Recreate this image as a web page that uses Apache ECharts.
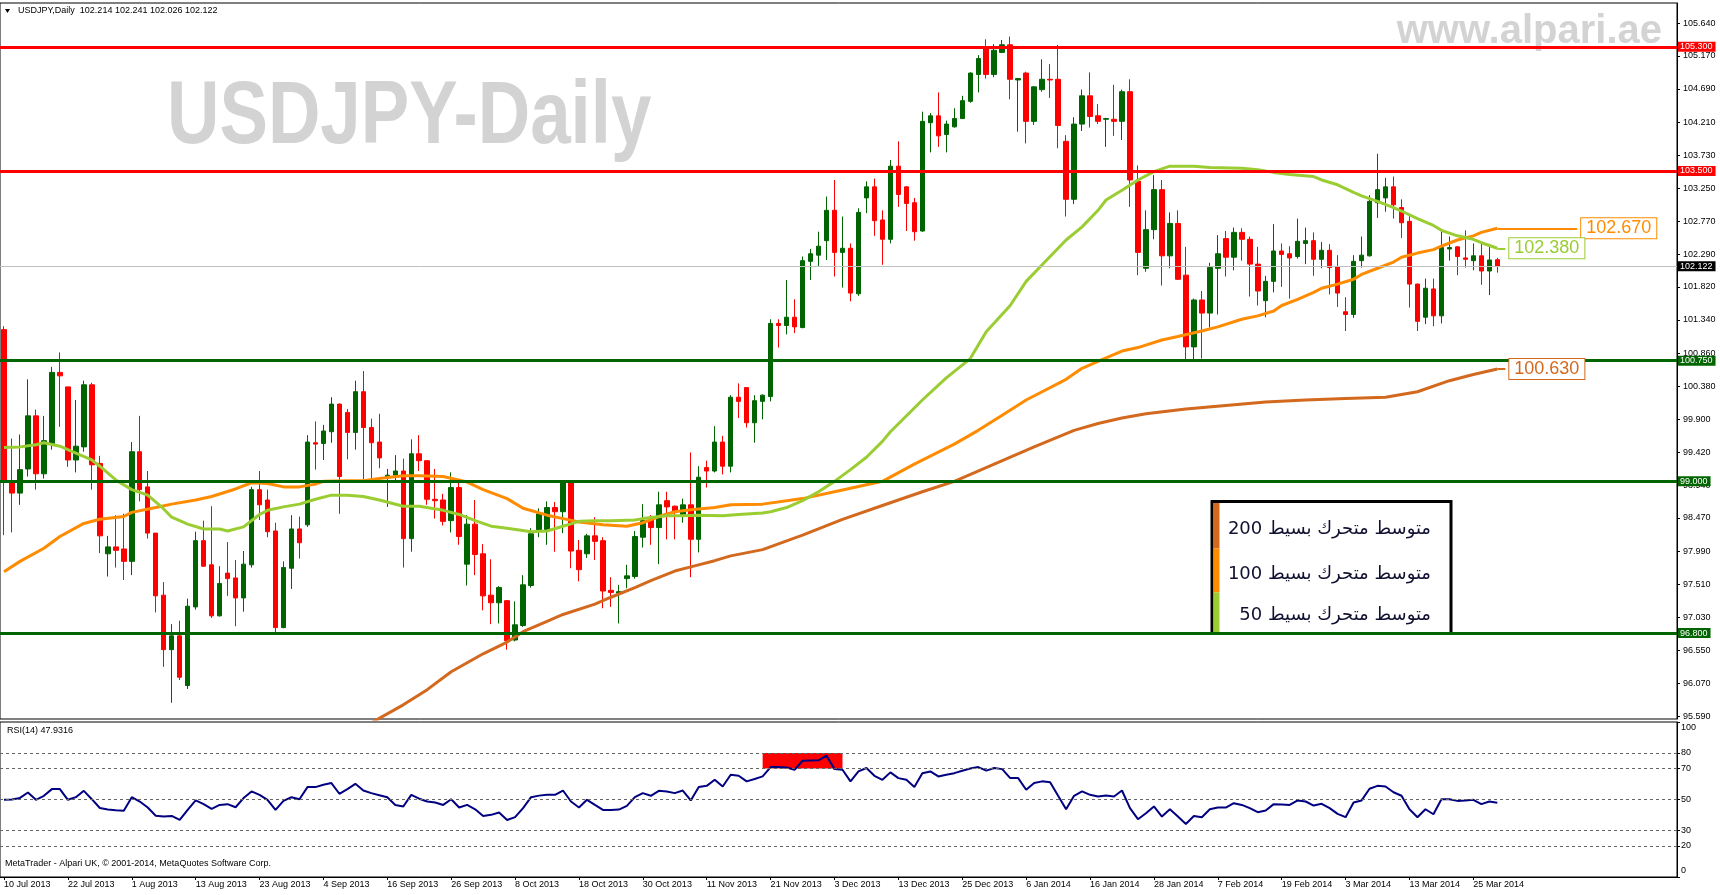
<!DOCTYPE html>
<html><head><meta charset="utf-8">
<script src="https://cdn.jsdelivr.net/npm/echarts@6/dist/echarts.min.js"></script>
<style>html,body{margin:0;padding:0;background:#fff;overflow:hidden}#c{width:1720px;height:895px}</style>
</head><body><div id="c"></div>
<script>
// ---------- DATA ----------
const symbolTitle = 'USDJPY,Daily';
const firstDate = [2013, 6, 10]; // 10 Jul 2013 (month 0-based)
const openP = [101.20,99.00,98.83,99.18,99.95,99.11,99.55,100.58,100.37,99.31,
99.50,100.40,99.26,97.95,98.05,98.02,97.84,99.43,98.92,98.25,
97.35,96.56,96.76,96.04,97.18,98.14,97.79,97.05,97.67,97.60,
97.31,97.79,98.88,98.73,98.28,96.88,97.74,98.31,98.37,99.56,
99.55,99.72,100.12,100.00,99.71,100.30,99.78,99.57,99.05,99.09,
99.15,98.17,99.40,99.30,98.74,98.73,98.43,98.91,97.80,98.38,
97.95,97.35,97.24,97.27,96.70,96.91,97.49,98.30,98.30,98.62,
98.56,98.99,98.00,97.95,98.21,98.14,97.42,97.38,97.59,97.62,
98.19,98.46,98.33,98.72,98.64,98.49,98.66,98.16,99.20,99.15,
99.57,99.22,100.22,100.36,99.85,100.16,100.23,101.29,101.26,101.38,
101.23,102.19,102.28,102.49,102.93,102.32,102.38,101.72,103.11,103.27,
102.79,102.51,103.57,103.27,103.04,102.63,104.20,104.30,104.03,104.14,
104.26,104.51,104.90,105.29,104.90,105.22,105.33,104.82,104.92,104.22,
104.68,104.83,104.83,103.93,103.09,104.18,104.59,104.30,104.25,104.25,
104.22,104.65,103.35,102.09,102.65,103.23,102.27,102.74,101.99,100.95,
101.63,101.44,102.09,102.52,102.25,102.61,102.51,102.15,101.62,101.90,
102.34,102.30,102.26,102.45,102.49,102.22,102.35,102.11,101.46,101.42,
102.20,102.27,103.04,103.11,103.27,102.97,102.77,101.86,101.38,101.79,
101.40,102.37,102.40,102.24,102.20,102.27,102.05,102.214];
const closeP = [99.00,98.83,99.17,99.95,99.11,99.59,100.58,100.53,99.31,99.51,
100.40,99.24,98.21,98.05,98.00,97.84,99.43,98.88,98.25,97.34,
96.56,96.76,96.16,97.19,98.14,97.77,97.05,97.52,97.59,97.31,
97.80,98.88,98.66,98.27,96.88,97.75,98.31,98.11,99.57,99.54,
99.73,100.12,99.07,99.71,100.30,99.78,99.56,99.34,99.09,99.15,
98.17,99.40,99.30,98.74,98.72,98.42,98.91,98.20,98.38,97.94,
97.34,97.24,97.46,96.69,96.92,97.50,98.24,98.53,98.62,98.56,
98.99,97.99,97.72,98.21,98.13,97.41,97.39,97.40,97.63,98.20,
98.43,98.33,98.66,98.63,98.56,98.66,98.16,99.06,99.15,99.57,
99.22,100.22,100.16,99.85,100.17,100.25,101.29,101.26,101.38,101.24,
102.20,102.30,102.41,102.93,102.32,102.38,101.73,102.90,103.27,102.78,
102.51,103.57,103.16,103.03,102.62,104.22,104.30,104.01,104.18,104.26,
104.52,104.92,105.13,104.90,105.25,105.33,104.83,104.84,104.22,104.72,
104.83,104.82,104.16,103.09,104.18,104.59,104.29,104.22,104.26,104.22,
104.65,103.37,102.32,102.65,103.23,102.27,102.74,101.93,100.95,101.63,
101.44,102.10,102.30,102.25,102.61,102.51,102.15,101.76,101.90,102.34,
102.29,102.24,102.48,102.49,102.22,102.35,102.10,101.73,101.42,102.19,
102.28,103.06,103.23,103.27,103.01,102.75,101.86,101.32,101.80,101.40,
102.39,102.39,102.26,102.22,102.27,102.05,102.21,102.122];
const lowP = [98.22,98.26,98.66,99.07,98.88,99.04,99.46,99.79,99.21,99.13,
99.43,98.88,97.96,97.62,97.75,97.57,97.64,98.71,98.17,97.10,
96.31,95.79,96.12,95.99,97.14,97.76,97.02,97.04,97.34,96.90,
97.11,97.75,98.44,98.19,96.81,96.87,97.44,97.88,98.34,99.17,
99.31,99.56,98.53,99.32,99.46,99.03,99.03,99.19,98.63,99.02,
97.75,97.98,99.15,98.66,98.46,98.36,98.26,98.08,97.49,97.64,
97.13,96.93,96.94,96.56,96.68,96.89,97.46,98.19,98.08,97.98,
98.25,97.74,97.55,97.89,97.86,97.16,97.18,96.94,97.45,97.59,
98.04,98.08,97.80,98.16,98.16,98.40,97.61,97.97,98.91,99.13,
99.10,99.13,99.92,99.78,99.56,99.90,100.16,100.94,101.13,101.15,
101.22,101.92,102.11,102.21,101.97,101.81,101.61,101.69,102.89,102.56,
102.14,102.45,102.98,102.63,102.49,102.62,103.77,103.85,103.77,104.13,
104.26,104.49,104.64,104.84,104.86,105.21,104.54,104.07,103.90,104.17,
104.65,104.56,103.83,102.84,103.02,104.08,104.13,104.18,103.85,104.01,
103.95,102.98,101.99,102.04,102.51,101.84,102.09,101.92,100.76,100.76,
100.78,101.23,101.42,101.97,102.06,102.20,101.68,101.55,101.38,101.74,
101.82,101.65,102.23,102.15,101.98,102.09,101.71,101.53,101.18,101.37,
102.10,102.26,102.82,102.91,102.81,102.53,101.52,101.18,101.28,101.25,
101.29,102.20,101.99,102.10,102.06,101.85,101.70,102.026];
const highP = [101.25,99.62,99.68,100.48,100.04,99.95,100.66,100.87,100.37,100.18,
100.46,100.43,99.37,98.21,98.51,98.53,99.57,99.95,99.15,98.25,
97.54,96.93,96.98,97.30,98.27,98.43,98.64,97.77,98.12,97.86,
97.99,98.92,99.15,98.88,98.40,97.84,98.51,98.49,99.67,99.87,
99.82,100.22,100.13,100.05,100.46,100.60,99.91,99.98,99.18,99.38,
99.33,99.61,99.67,99.30,99.18,98.82,99.13,99.00,98.51,98.73,
98.09,97.87,97.48,97.28,97.26,97.64,98.32,98.61,98.71,98.70,
98.99,99.01,98.15,98.24,98.48,98.19,97.61,97.50,97.79,98.28,
98.67,98.51,98.85,98.85,98.65,98.75,99.42,99.22,99.30,99.80,
99.66,100.25,100.42,100.36,100.25,100.26,101.35,101.35,101.92,101.64,
102.26,102.37,102.62,103.13,103.37,102.84,102.45,102.96,103.35,103.39,
102.93,103.66,103.93,103.28,103.11,104.36,104.34,104.64,104.23,104.41,
104.59,104.93,105.18,105.41,105.34,105.40,105.45,104.85,104.94,104.73,
105.12,105.05,105.33,104.02,104.28,104.68,104.93,104.47,104.27,104.75,
104.68,104.83,103.58,102.93,103.44,103.37,102.90,102.93,102.40,101.65,
101.76,102.17,102.57,102.63,102.68,102.67,102.55,102.40,101.98,102.73,
102.45,102.41,102.81,102.68,102.61,102.47,102.44,102.28,101.67,102.28,
102.55,103.15,103.75,103.40,103.42,103.09,102.85,101.87,101.94,101.94,
102.63,102.55,102.41,102.64,102.45,102.45,102.40,102.241];

// moving averages: [bar index, value]
const ma50 = [[0,99.49],[2,99.50],[4,99.53],[5,99.56],[7,99.51],[9,99.41],[11,99.31],[12,99.22],[14,99.02],[16,98.88],[18,98.80],[20,98.60],[21,98.48],[23,98.38],[25,98.31],[27,98.31],[28,98.28],[30,98.34],[32,98.52],[33,98.58],[35,98.63],[37,98.67],[39,98.74],[41,98.80],[43,98.80],[45,98.78],[47,98.73],[50,98.64],[52,98.64],[55,98.58],[57,98.52],[59,98.43],[61,98.35],[63,98.32],[66,98.27],[68,98.28],[70,98.35],[72,98.42],[74,98.43],[76,98.43],[79,98.44],[80,98.46],[83,98.50],[85,98.50],[87,98.51],[90,98.50],[92,98.52],[95,98.54],[96,98.56],[98,98.62],[100,98.72],[102,98.85],[104,99.00],[106,99.17],[108,99.35],[110,99.58],[111,99.72],[115,100.18],[118,100.50],[121,100.78],[123,101.17],[126,101.55],[128,101.90],[130,102.14],[132,102.38],[133,102.50],[135,102.69],[137,102.93],[138,103.08],[140,103.22],[142,103.37],[144,103.49],[146,103.57],[149,103.57],[151,103.55],[155,103.54],[157,103.52],[159,103.48],[161,103.45],[164,103.42],[165,103.37],[167,103.30],[169,103.19],[170,103.14],[172,103.06],[174,102.97],[175,102.92],[177,102.81],[179,102.71],[180,102.64],[182,102.56],[184,102.51],[185,102.46],[187,102.38]];
const ma100 = [[0,97.69],[2,97.84],[5,98.03],[7,98.20],[10,98.39],[12,98.45],[15,98.49],[16,98.55],[19,98.62],[21,98.67],[24,98.73],[26,98.78],[29,98.89],[31,98.98],[33,98.97],[35,98.92],[37,98.92],[39,98.96],[40,99.00],[43,99.01],[45,99.01],[47,99.04],[50,99.08],[52,99.08],[55,99.07],[58,98.99],[60,98.88],[63,98.75],[65,98.61],[68,98.51],[70,98.46],[72,98.41],[75,98.37],[78,98.35],[80,98.40],[82,98.49],[84,98.56],[86,98.59],[89,98.62],[91,98.66],[95,98.67],[100,98.75],[104,98.85],[108,98.95],[110,99.00],[114,99.25],[119,99.54],[122,99.74],[125,99.96],[128,100.18],[130,100.30],[133,100.48],[135,100.64],[138,100.79],[140,100.89],[142,100.94],[145,101.05],[147,101.10],[150,101.18],[152,101.24],[155,101.35],[157,101.40],[159,101.47],[160,101.55],[162,101.64],[164,101.74],[165,101.80],[167,101.86],[169,101.93],[170,102.00],[172,102.09],[174,102.18],[175,102.25],[177,102.31],[179,102.36],[180,102.41],[182,102.50],[184,102.56],[185,102.61],[187,102.67]];
const ma200 = [[46,95.50],[50,95.76],[53,95.98],[56,96.24],[60,96.50],[63,96.67],[65,96.82],[68,96.97],[70,97.07],[74,97.22],[76,97.32],[79,97.46],[81,97.56],[84,97.70],[86,97.76],[89,97.85],[91,97.92],[95,98.01],[100,98.22],[105,98.45],[110,98.65],[115,98.85],[119,99.00],[124,99.25],[129,99.50],[134,99.74],[137,99.84],[140,99.92],[143,99.98],[148,100.05],[153,100.10],[158,100.15],[163,100.18],[168,100.20],[173,100.22],[177,100.30],[181,100.46],[184,100.55],[187,100.63]];

const rsi = [49.8,50.0,51.0,54.5,49.8,52.4,56.7,56.7,49.8,51.5,
55.6,50.2,44.5,43.5,43.0,42.7,51.5,48.7,44.8,39.5,
39.0,39.4,36.8,43.3,49.4,47.0,44.0,46.5,47.0,45.0,
50.9,55.2,53.0,49.8,43.3,49.1,51.5,50.2,58.0,58.0,
59.5,60.6,53.7,56.7,60.1,55.8,54.1,52.8,51.5,46.5,
45.5,53.0,50.5,48.7,48.1,46.5,50.2,44.8,46.5,43.7,
39.4,40.1,41.6,36.8,38.6,44.4,51.5,52.5,53.0,53.0,
55.8,48.7,44.8,49.8,46.5,43.3,43.3,43.5,45.9,51.5,
54.1,52.4,55.6,55.2,54.1,55.8,49.4,58.0,58.8,62.7,
58.4,66.0,65.3,61.7,63.2,64.9,70.9,70.9,70.7,69.2,
75.0,75.2,75.3,78.3,69.6,69.2,61.7,68.1,70.3,65.3,
62.7,67.5,63.8,62.7,58.0,67.0,68.1,64.9,66.0,67.0,
68.6,70.0,70.9,68.6,70.3,69.6,63.8,63.8,56.3,60.6,
61.7,61.2,52.4,43.7,52.4,55.2,53.0,51.9,52.6,51.9,
55.8,44.4,37.3,41.1,45.5,39.0,43.7,39.0,34.2,39.4,
38.6,43.7,44.8,44.8,47.6,46.5,44.4,41.8,42.9,47.0,
46.8,46.5,49.4,48.7,46.1,47.2,44.4,40.7,38.6,48.1,
49.4,56.9,58.8,58.4,54.7,52.4,43.7,38.6,43.7,40.5,
50.2,50.2,49.1,49.4,49.8,47.0,48.7,47.9316];
const rsiLabel = 'RSI(14) 47.9316';

const yTicks = [95.59,96.07,96.55,97.03,97.51,97.99,98.47,98.94,99.42,99.90,100.38,100.86,101.34,101.82,102.29,102.77,103.25,103.73,104.21,104.69,105.17,105.64];
const rsiTicks = [0,20,30,50,70,80,100];
const rsiLevels = [80,70,50,30,20];
const resistance = [105.300, 103.500];
const support = [100.750, 99.000, 96.800];
const bidPrice = 102.122;
const rsiBoxFrom = 95, rsiBoxTo = 105, rsiBoxHi = 80, rsiBoxLo = 70;
const legendTexts = ['متوسط متحرك بسيط 200','متوسط متحرك بسيط 100','متوسط متحرك بسيط 50'];

// ---------- BUILD ----------
const MONTHS = ['Jan','Feb','Mar','Apr','May','Jun','Jul','Aug','Sep','Oct','Nov','Dec'];
const nBars = openP.length;
const dates = [];
{ const d = new Date(Date.UTC(firstDate[0], firstDate[1], firstDate[2]));
  while (dates.length < nBars) { const w = d.getUTCDay();
    if (w !== 0 && w !== 6) dates.push(d.getUTCDate()+' '+MONTHS[d.getUTCMonth()]+' '+d.getUTCFullYear());
    d.setUTCDate(d.getUTCDate()+1); } }
const TOTAL = 210;
const cats = dates.slice(); for (let k = nBars; k < TOTAL; k++) cats.push('_' + k);
const candles = openP.map((o,i)=>[o, closeP[i], lowP[i], highP[i]]);
const showIdx = (i) => i % 8 === 0 && i < nBars;
const FONT = '"Liberation Sans", Arial, sans-serif';

const RED='#FF0000', DG='#006400', C50='#9ACD32', C100='#FF8C00', C200='#D2691E';

function maEndMark(series, color, endIdx){
  const v = series[series.length-1][1], i0 = series[series.length-1][0];
  return { symbol:'none', silent:true, animation:false,
    data:[[{coord:[i0, v]},{coord:[endIdx, v]}]],
    lineStyle:{color, width:2, type:'solid'},
    label:{show:true, position:'end', distance:4, formatter: v.toFixed(3), color, fontSize:18, fontFamily:FONT,
      backgroundColor:'#fff', borderColor:color, borderWidth:1, padding:[2,5,0,5]} };
}

const levelLines = [];
resistance.forEach(v=>levelLines.push({yAxis:v, lineStyle:{color:RED,width:3,type:'solid'}, label:{backgroundColor:RED, formatter:v.toFixed(3)}}));
support.forEach(v=>levelLines.push({yAxis:v, lineStyle:{color:DG,width:3,type:'solid'}, label:{backgroundColor:DG, formatter:v.toFixed(3)}}));
levelLines.push({yAxis:bidPrice, lineStyle:{color:'#C0C0C0',width:1,type:'solid'}, label:{backgroundColor:'#000', formatter:bidPrice.toFixed(3)}});

const chart = echarts.init(document.getElementById('c'), null, {renderer:'canvas'});
const last = nBars-1;
chart.setOption({
  animation:false,
  backgroundColor:'#fff',
  grid:[
    {left:0, right:43, top:3, height:716, show:true, borderColor:'#000', borderWidth:1, backgroundColor:'transparent'},
    {left:0, right:43, top:722, height:155, show:true, borderColor:'#000', borderWidth:1, backgroundColor:'transparent'}
  ],
  xAxis:[
    {type:'category', gridIndex:0, data:cats, boundaryGap:true, axisLine:{show:false}, axisTick:{show:false}, axisLabel:{show:false}, splitLine:{show:false}},
    {type:'category', gridIndex:1, data:cats, boundaryGap:true, axisLine:{show:true, lineStyle:{color:'#000'}},
      axisTick:{show:true, interval:(i)=>showIdx(i), alignWithLabel:true, length:3, lineStyle:{color:'#000'}},
      axisLabel:{show:true, interval:(i)=>showIdx(i), align:'left', margin:3, fontSize:9, fontFamily:FONT, color:'#000',
        formatter:(v)=> v.charAt(0)==='_' ? '' : v},
      splitLine:{show:false}}
  ],
  yAxis:[
    {type:'value', gridIndex:0, position:'right', min:95.5545, max:105.936, scale:true,
      axisLine:{show:true, lineStyle:{color:'#000'}},
      axisTick:{show:true, length:3, customValues:yTicks, lineStyle:{color:'#000'}},
      axisLabel:{show:true, customValues:yTicks, margin:6, fontSize:9, fontFamily:FONT, color:'#000', formatter:(v)=>Number(v).toFixed(3)},
      splitLine:{show:false}},
    {type:'value', gridIndex:1, position:'right', min:0, max:100,
      axisLine:{show:true, lineStyle:{color:'#000'}},
      axisTick:{show:true, length:3, customValues:rsiTicks, lineStyle:{color:'#000'}},
      axisLabel:{show:true, customValues:rsiTicks, margin:4, fontSize:9, fontFamily:FONT, color:'#000',
        formatter:(v)=> v===100 ? '{t|100}' : (v===0 ? '{b|0}' : String(v)),
        rich:{t:{padding:[11,0,0,0], fontSize:9, fontFamily:FONT, color:'#000'}, b:{padding:[0,0,12,0], fontSize:9, fontFamily:FONT, color:'#000'}}},
      splitLine:{show:false}}
  ],
  series:[
    {type:'candlestick', name:'USDJPY', xAxisIndex:0, yAxisIndex:0, data:candles, barWidth:5, z:2,
      itemStyle:{color:DG, color0:RED, borderColor:DG, borderColor0:RED, borderWidth:1}},
    {type:'line', name:'MA200', xAxisIndex:0, yAxisIndex:0, data:ma200, showSymbol:false, symbol:'none', z:3, clip:true,
      lineStyle:{color:C200, width:3}, markLine: maEndMark(ma200, C200, 188)},
    {type:'line', name:'MA100', xAxisIndex:0, yAxisIndex:0, data:ma100, showSymbol:false, symbol:'none', z:3, clip:true,
      lineStyle:{color:C100, width:3}, markLine: maEndMark(ma100, C100, 197)},
    {type:'line', name:'MA50', xAxisIndex:0, yAxisIndex:0, data:ma50, showSymbol:false, symbol:'none', z:3, clip:true,
      lineStyle:{color:C50, width:3}, markLine: maEndMark(ma50, C50, 188)},
    {type:'line', name:'levels', xAxisIndex:0, yAxisIndex:0, data:[[0,null]], showSymbol:false, z:5,
      markLine:{symbol:'none', silent:true, animation:false,
        label:{show:true, position:'end', distance:1, color:'#fff', fontSize:9, fontFamily:FONT, padding:[1,3,0,2]},
        data:levelLines}},
    {type:'line', name:'RSI', xAxisIndex:1, yAxisIndex:1, data:rsi, showSymbol:false, symbol:'none', z:3,
      lineStyle:{color:'#000080', width:2},
      markArea:{silent:true, itemStyle:{color:RED, opacity:1}, data:[[{xAxis:rsiBoxFrom, yAxis:rsiBoxHi},{xAxis:rsiBoxTo, yAxis:rsiBoxLo}]]},
      markLine:{symbol:'none', silent:true, animation:false, label:{show:false},
        lineStyle:{color:'#666', width:1, type:[3,3]}, data: rsiLevels.map(v=>({yAxis:v}))}}
  ],
  graphic:[
    {type:'polygon', shape:{points:[[5,9],[10,9],[7.5,13]]}, style:{fill:'#000'}, z:10},
    {type:'text', x:18, y:11, z:10, style:{text: symbolTitle+'  '+[openP[last],highP[last],lowP[last],closeP[last]].map(v=>v.toFixed(3)).join(' '),
      font:'9px '+FONT, fill:'#000', verticalAlign:'middle', textVerticalAlign:'middle'}},
    {type:'text', x:167, y:118, z:1, scaleX:0.816, style:{text:'USDJPY-Daily', font:'bold 89px '+FONT, fill:'#D3D3D3', verticalAlign:'middle', textVerticalAlign:'middle'}},
    {type:'text', x:1662, y:32, z:1, style:{text:'www.alpari.ae', font:'bold 40px '+FONT, fill:'#D3D3D3', align:'right', textAlign:'right', verticalAlign:'middle', textVerticalAlign:'middle'}},
    {type:'text', x:7, y:731, z:10, style:{text:rsiLabel, font:'9px '+FONT, fill:'#000', verticalAlign:'middle', textVerticalAlign:'middle'}},
    {type:'text', x:5, y:864, z:10, style:{text:'MetaTrader - Alpari UK, © 2001-2014, MetaQuotes Software Corp.', font:'9px '+FONT, fill:'#000', verticalAlign:'middle', textVerticalAlign:'middle'}},
    {type:'group', z:20, children:[
      {type:'rect', shape:{x:1212, y:501.5, width:239, height:132}, style:{fill:'#fff', stroke:'#000', lineWidth:3}},
      {type:'rect', shape:{x:1213.5, y:503, width:6, height:45.5}, style:{fill:C200}},
      {type:'rect', shape:{x:1213.5, y:548.5, width:6, height:44}, style:{fill:C100}},
      {type:'rect', shape:{x:1213.5, y:592.5, width:6, height:39.5}, style:{fill:C50}},
      {type:'text', x:1431, y:529, style:{text:legendTexts[0], font:'18px "DejaVu Sans"', fill:'#101030', align:'right', textAlign:'right', verticalAlign:'middle', textVerticalAlign:'middle'}},
      {type:'text', x:1431, y:574, style:{text:legendTexts[1], font:'18px "DejaVu Sans"', fill:'#101030', align:'right', textAlign:'right', verticalAlign:'middle', textVerticalAlign:'middle'}},
      {type:'text', x:1431, y:615, style:{text:legendTexts[2], font:'18px "DejaVu Sans"', fill:'#101030', align:'right', textAlign:'right', verticalAlign:'middle', textVerticalAlign:'middle'}}
    ]}
  ]
});
</script></body></html>
